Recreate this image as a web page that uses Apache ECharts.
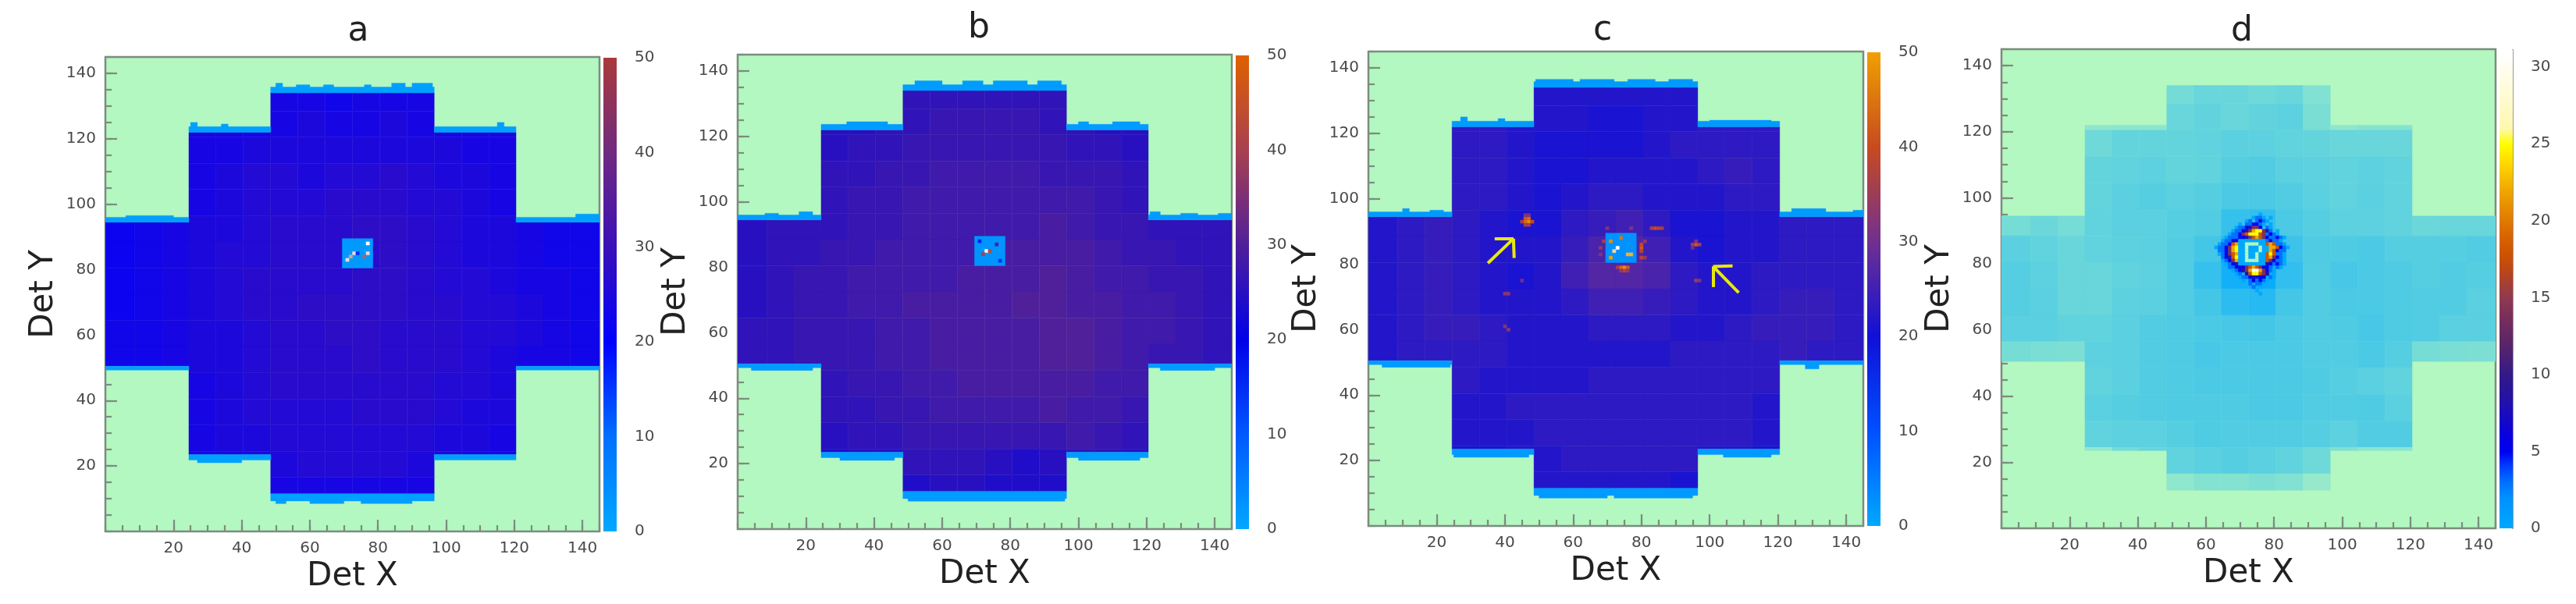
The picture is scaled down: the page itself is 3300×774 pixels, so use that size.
<!DOCTYPE html>
<html><head><meta charset="utf-8">
<style>html,body{margin:0;padding:0;background:#fff}#c{width:3300px;height:774px}</style>
<script src="https://cdn.jsdelivr.net/npm/echarts@6/dist/echarts.min.js"></script>
</head><body><div id="c"></div>
<script>
// Values are by-eye estimates of the mean level in 8x8-bin blocks of the picture: the individual
// noise pixels of the original detector images cannot be read one by one, so they are not invented.
const panelNames = ['a','b','c','d'];
const axisTitleX = 'Det X';
const axisTitleY = 'Det Y';

// rows: y from 136.5 down to 8.5 in steps of 8; columns: x from 0.5 to 144.5 in steps of 8
const aBlocks = [
[0,0,0,0,0,0,24,24,23,24,24,24,0,0,0,0,0,0],
[0,0,0,24,24,24,24,25,24,24,25,24,24,24,24,0,0,0],
[0,0,0,24,24,25,25,25,25,25,25,25,25,24,24,0,0,0],
[0,0,0,24,25,26,26,25,26,26,27,26,25,25,24,0,0,0],
[0,0,0,24,25,26,26,26,27,27,27,26,26,25,24,0,0,0],
[22,23,24,25,25,26,27,27,27,28,28,27,26,25,25,24,23,23],
[22,23,24,25,26,26,27,27,27,27,28,27,26,25,25,24,23,23],
[22,23,24,25,26,27,27,27,27,28,28,27,26,26,25,24,24,23],
[22,23,24,25,26,27,27,28,28,28,28,27,27,26,26,25,24,23],
[23,23,24,25,25,26,27,27,28,28,27,27,27,26,26,25,24,23],
[23,23,24,25,25,26,27,27,27,28,27,27,27,26,25,24,24,23],
[0,0,0,24,25,26,27,27,27,27,27,27,26,26,25,0,0,0],
[0,0,0,24,25,26,26,26,26,27,27,27,26,25,25,0,0,0],
[0,0,0,24,25,25,26,26,26,26,26,26,25,25,24,0,0,0],
[0,0,0,24,24,25,25,26,26,26,26,25,25,24,24,0,0,0],
[0,0,0,0,0,0,24,24,24,24,24,24,0,0,0,0,0,0]];
const bBlocks = [
[0,0,0,0,0,0,26,26,26,26,26,26,0,0,0,0,0,0],
[0,0,0,25,25,26,26,27,27,27,27,26,26,25,25,0,0,0],
[0,0,0,25,26,26,27,27,27,27,27,27,26,26,25,0,0,0],
[0,0,0,26,26,27,27,28,28,28,28,27,27,27,26,0,0,0],
[0,0,0,26,27,27,28,28,28,28,28,28,28,27,26,0,0,0],
[25,26,26,26,27,27,28,28,28,28,28,29,28,27,27,26,26,26],
[25,26,26,27,27,28,28,28,28,29,29,29,29,28,27,27,26,26],
[25,26,27,27,28,28,28,28,29,29,29,30,29,28,28,27,27,26],
[25,26,27,27,28,28,29,29,29,29,30,30,29,29,28,28,27,26],
[26,26,27,27,27,28,28,29,29,29,29,30,30,29,28,28,27,26],
[26,26,27,27,27,28,28,29,29,29,29,30,30,29,28,27,27,26],
[0,0,0,26,27,27,28,28,29,29,29,29,29,28,28,0,0,0],
[0,0,0,26,26,27,27,28,28,28,28,29,28,28,27,0,0,0],
[0,0,0,25,26,26,27,27,27,27,27,27,28,27,26,0,0,0],
[0,0,0,24,25,25,26,26,26,25,24,25,26,26,25,0,0,0],
[0,0,0,0,0,0,24,25,25,24,24,24,0,0,0,0,0,0]];
const cBlocks = [
[0,0,0,0,0,0,22,22,22,22,22,22,0,0,0,0,0,0],
[0,0,0,23,23,22,22,22,21,21,22,22,23,23,23,0,0,0],
[0,0,0,23,23,22,21,21,21,21,22,23,23,23,23,0,0,0],
[0,0,0,23,23,22,21,21,22,22,22,22,23,24,23,0,0,0],
[0,0,0,23,23,22,21,22,23,23,22,22,22,23,23,0,0,0],
[22,23,24,23,22,21,21,23,24,25,23,21,21,22,22,23,23,23],
[22,23,24,23,22,22,22,24,26,27,25,22,21,22,22,23,23,23],
[22,23,24,23,22,21,22,25,27,27,26,23,22,22,23,23,23,23],
[22,23,24,23,22,22,22,23,25,25,24,23,22,22,23,24,24,23],
[22,23,24,24,23,22,22,22,23,23,23,22,22,23,24,24,24,23],
[22,23,23,23,23,22,22,22,22,22,22,23,23,23,23,24,23,23],
[0,0,0,23,22,22,22,22,23,23,23,23,23,23,23,0,0,0],
[0,0,0,22,22,23,23,23,23,23,23,23,23,23,22,0,0,0],
[0,0,0,22,22,22,23,23,23,23,23,23,23,23,22,0,0,0],
[0,0,0,21,21,22,22,23,23,23,23,23,22,22,21,0,0,0],
[0,0,0,0,0,0,22,22,22,22,22,21,0,0,0,0,0,0]];
// panel d: occupied fraction of each block (zero or about one count per bin)
const dBlocks = [
[0,0,0,0,0,0,.35,.42,.42,.38,.42,.28,0,0,0,0,0,0],
[0,0,0,.2,.22,.22,.42,.45,.42,.45,.48,.32,.2,.25,.25,0,0,0],
[0,0,0,.38,.44,.44,.44,.46,.5,.48,.46,.44,.42,.42,.42,0,0,0],
[0,0,0,.44,.46,.48,.44,.46,.52,.55,.5,.48,.46,.48,.46,0,0,0],
[0,0,0,.44,.5,.52,.5,.52,.58,.58,.55,.5,.46,.5,.46,0,0,0],
[.34,.4,.34,.46,.5,.5,.52,.55,.7,.72,.58,.52,.48,.48,.46,.4,.42,.42],
[.5,.46,.42,.46,.48,.5,.54,.62,.8,.85,.66,.56,.56,.58,.52,.52,.52,.54],
[.52,.48,.42,.42,.46,.48,.54,.7,.9,.95,.72,.55,.6,.58,.56,.52,.54,.52],
[.52,.5,.42,.42,.48,.5,.54,.62,.75,.78,.62,.55,.58,.58,.56,.54,.54,.5],
[.5,.5,.46,.46,.5,.54,.56,.58,.6,.62,.58,.55,.56,.6,.56,.54,.5,.5],
[.34,.32,.3,.48,.5,.54,.56,.6,.58,.58,.58,.55,.55,.58,.52,.34,.32,.3],
[0,0,0,.46,.5,.54,.56,.58,.58,.58,.58,.56,.52,.5,.46,0,0,0],
[0,0,0,.5,.52,.54,.56,.56,.56,.58,.58,.54,.54,.56,.5,0,0,0],
[0,0,0,.46,.48,.48,.52,.56,.54,.54,.54,.52,.48,.54,.54,0,0,0],
[0,0,0,.18,.36,.42,.46,.5,.52,.5,.46,.38,.28,.22,.22,0,0,0],
[0,0,0,0,0,0,.2,.26,.26,.3,.28,.16,0,0,0,0,0,0]];

// outline of the detector, in bin coordinates: [xFrom, xTo, yFrom, yTo]
const crossSpans = [[0,145,50.5,94.5],[24.5,120.5,23.5,122],[48.5,96.5,11.5,134]];
const fringeBands = [[48.5,96.5,134,135.8],[24.5,48.5,122,123.7],[96.5,120.5,122,123.7],
  [0,24.5,94.5,96],[120.5,145,94.5,96],[0,24.5,49.3,50.5],[120.5,145,49.3,50.5],
  [24.5,48.5,21.8,23.5],[96.5,120.5,21.8,23.5],[48.5,96.5,9.3,11.5]];
const aBumps = [[50,52,135.5,137],[56,60,135.5,136.5],[64,67,135.5,136.5],[76,78,135.5,136.5],[84,88,135.5,137],[90,96,135.5,137],
  [25,27,123.5,125],[34,36,123.5,124.5],[115,117,123.5,125],[138,145,95.5,97],[6,20,95.5,96.5],
  [50,53,8.5,9.5],[60,70,8.5,9.5],[75,90,8.5,9.5],[27,40,21,22]];
const bBumps = [[52,60,135.5,137],[66,72,135.5,137],[75,85,135.5,137],[88,95,135.5,137],[32,44,123.5,124.5],[100,103,123.5,124.5],[110,118,123.5,124.5],
  [8,12,95.5,96.5],[18,22,95.5,97],[121,124,95.5,97],[130,135,95.5,96.5],[141,145,95.5,96.5],
  [50,96,8.5,9.5],[30,46,21,22],[100,118,21,22],[4,22,48.5,49.5],[124,140,48.5,49.5]];
const cBumps = [[49,60,135.5,136.5],[62,72,135.5,136.5],[76,84,135.5,136.5],[88,95,135.5,136.5],[27,29,123.5,125],[38,40,123.5,124.5],[100,118,123.5,124],
  [10,12,95.5,97],[18,22,95.5,96.5],[124,134,95.5,97],[142,145,95.5,96.5],
  [50,70,8.5,9.5],[72,95,8.5,9.5],[4,24,48.5,49.5],[128,132,48,49.5],[25,47,21,22],[104,118,21,22]];

// single hot or cold bins: [x, y, value]
const aSpots = [[73,85,58],[74,85,16],[77,88,60],[77,85,58],[76,84,52],[71,83,58],[72,84,55]];
const bSpots = [[73,85,60],[74,85,44],[72,84,40],[76,87,30],[71,88,16],[77,82,14]];
const cSpots = [[46,93,44],[47,93,48],[46,94,42],[47,94,44],[48,93,40],[45,93,36],[46,92,36],[47,92,36],[47,95,32],[46,95,32],
  [96,86,42],[95,86,36],[97,86,36],[96,87,32],[95,85,30],
  [73,85,60],[72,84,56],[71,87,48],[71,82,50],[76,83,52],[77,83,52],[74,88,45],
  [75,79,48],[74,79,44],[76,79,42],[75,78,38],[74,78,34],[76,78,34],[73,79,36],
  [80,85,42],[80,86,40],[80,84,38],[80,82,38],[81,82,34],[81,87,34],
  [84,91,40],[85,91,38],[83,91,36],[86,91,36],[68,85,34],[68,83,32],[69,87,36],[77,91,32],[70,91,32],
  [40,71,33],[41,71,33],[41,60,33],[40,61,32],[96,75,35],[97,75,32],[45,75,30]];
// central rectangle of lower counts: [xFrom, xTo, yFrom, yTo]
const boxBounds = [69.5,78.5,80.5,89.5];
const boxLevel = 2.5;
const fringeLevel = 1.5;
// panel d centre: rows from y=95 downward, columns from x=63; '.' keeps the block level
const dCentreRows = [
".............1",
"...........1221.1",
".........12.2321",
".......1.223321.1",
"......12234553.21",
".....122345788542.1",
"....122356888652321",
"...122233456765322321",
"..122331111111123221",
".12236711000011676221",
"1223578110111011776321",
".22357811011101176322",
".12356711011011686221",
"..2346811011011675321",
"..1235711000011653221",
"...123411111111432321",
"....2233356765332.21",
".....1234579975321",
"......12.4688654.1",
".......12234433.21",
"........1.232321",
"..........2.221",
"...........2.1",
"............1",
".............1"];
const dCodeValues = {'0':0,'1':1,'2':3,'3':5,'4':8,'5':14,'6':18,'7':22,'8':25,'9':30};
const arrowSegments = [
 [[35,80.3],[42.5,87.8]],[[42.5,87.8],[37,87.8]],[[42.5,87.8],[42.7,81.9]],
 [[108.5,71.3],[101,79.3]],[[101,79.3],[106.7,79.5]],[[101,79.3],[101,73]]];

const plotTicks = 20, plotMinor = 5, plotMax = 145;
const barTops = [50,50,50,31.1];
const barTicks = [10,10,10,5];
const barMinor = [2,2,2,1];

// styles and layout
const green = '#b3f7c1';
const lefts = [135,945,1753,2564], tops = [73,70,66,63], widths = [633,633,634,633], heights = [608,608,608,614];
const titleX = [454,1249,2048,2867], titleY = [14,10,13,14];
const ramps = [
 ['#00a8ff','#0070ff','#0000ff','#3a10b8','#702a80','#aa3a3a','#ffffff'],
 ['#00a8ff','#0058ff','#0000e8','#50209a','#a84050','#e06000','#ffffff'],
 ['#00a8ff','#0050ff','#1010d8','#703090','#c84a20','#f0a000','#ffffff']];
const dRamp = [green,'#00a8ff','#0090ff','#0070ff','#0040ff','#0000f0','#0a00e0','#1408c8','#2010b0','#2a1498','#341a88',
 '#481f78','#5a2568','#6c2a60','#7e3058','#903a50','#a84030','#c04a10','#d05500','#d86500','#e07a00',
 '#e89000','#f0a800','#f8c400','#ffe000','#ffff00','#fff8b0','#fff9c0','#fffbd0','#fffce0','#fffef0','#ffffff'];

function blockCells(blocks){
  const out=[];
  blocks.forEach((row,r)=>{
    const y1=136.5-8*r, y0=y1-8;
    row.forEach((v,c)=>{
      if(!v) return;
      const x0=c===0?0:0.5+8*c, x1=c===17?145:8.5+8*c;
      const pieces=[];
      crossSpans.forEach(s=>{
        const a=Math.max(x0,s[0]),b=Math.min(x1,s[1]),d=Math.max(y0,s[2]),e=Math.min(y1,s[3]);
        if(a<b&&d<e) pieces.push([a,d,b,e,v]);
      });
      if(pieces.length){
        pieces.sort((p,q)=>(q[3]-q[1])-(p[3]-p[1]));
        out.push(pieces[0]);
      }
    });
  });
  return out;
}
function panelCells(i){
  const blocks=[aBlocks,bBlocks,cBlocks,dBlocks][i];
  const out=blockCells(blocks);
  if(i<3){
    const bumps=[aBumps,bBumps,cBumps][i];
    fringeBands.concat(bumps).forEach(b=>out.push([b[0],b[2],b[1],b[3],fringeLevel]));
    out.push([boxBounds[0],boxBounds[2],boxBounds[1],boxBounds[3],boxLevel]);
    [aSpots,bSpots,cSpots][i].forEach(s=>out.push([s[0]-.5,s[1]-.5,s[0]+.5,s[1]+.5,s[2]]));
  } else {
    dCentreRows.forEach((row,r)=>{
      const y=95-r;
      for(let k=0;k<row.length;k++){
        if(row[k]==='.') continue;
        const x=63+k, v=dCodeValues[row[k]];
        out.push([x-.5,y-.5,x+.5,y+.5,v]);
      }
    });
  }
  return out;
}
const renderCell=(p,api)=>{
  const a=api.coord([api.value(0),api.value(3)]), b=api.coord([api.value(2),api.value(1)]);
  const col=api.visual('color');
  return {type:'rect',shape:{x:a[0],y:a[1],width:b[0]-a[0],height:b[1]-a[1]},style:{fill:col,stroke:col,lineWidth:0.4}};
};
const tickText={color:'#4a4a4a',fontFamily:'DejaVu Sans',fontSize:20};
const lineCol='#7d8c7e';
const grids=[],xAxes=[],yAxes=[],series=[],visualMaps=[],titles=[];
const hideLabel={show:false};
panelNames.forEach((nm,i)=>{
  titles.push({text:nm,left:titleX[i],top:titleY[i],textAlign:'center',
    textStyle:{fontFamily:'DejaVu Sans',fontSize:44,fontWeight:'normal',color:'#222'}});
  const g=grids.length;
  grids.push({left:lefts[i],top:tops[i],width:widths[i],height:heights[i],show:true,backgroundColor:green,borderColor:lineCol,borderWidth:2.5,containLabel:false});
  const common={min:0,max:plotMax,gridIndex:g,splitLine:{show:false},axisLine:{show:false}};
  const fmt=v=>(v%plotTicks===0&&v>0&&v<plotMax)?String(v):'';
  const xMain=xAxes.length;
  xAxes.push({...common,type:'value',position:'bottom',interval:plotTicks,name:axisTitleX,nameLocation:'middle',nameGap:35,
    nameTextStyle:{fontFamily:'DejaVu Sans',fontSize:42,color:'#222'},
    axisTick:{inside:true,length:15,lineStyle:{color:lineCol,width:2.2}},
    axisLabel:{...tickText,margin:12,formatter:fmt,showMinLabel:false,showMaxLabel:false}});
  xAxes.push({...common,type:'value',position:'bottom',interval:plotMinor,axisLabel:hideLabel,
    axisTick:{inside:true,length:8,lineStyle:{color:lineCol,width:2.2}}});
  const yMain=yAxes.length;
  yAxes.push({...common,type:'value',position:'left',interval:plotTicks,name:axisTitleY,nameLocation:'middle',nameGap:58,
    nameTextStyle:{fontFamily:'DejaVu Sans',fontSize:42,color:'#222'},
    axisTick:{inside:true,length:15,lineStyle:{color:lineCol,width:2.2}},
    axisLabel:{...tickText,margin:12,formatter:fmt,showMinLabel:false,showMaxLabel:false}});
  yAxes.push({...common,type:'value',position:'left',interval:plotMinor,axisLabel:hideLabel,
    axisTick:{inside:true,length:8,lineStyle:{color:lineCol,width:2.2}}});
  const s={type:'custom',coordinateSystem:'cartesian2d',xAxisIndex:xMain,yAxisIndex:yMain,renderItem:renderCell,
    encode:{x:[0,2],y:[1,3]},data:panelCells(i),clip:true,z:2,animation:false};
  if(i===2){
    s.markLine={silent:true,symbol:'none',animation:false,label:{show:false},
      lineStyle:{color:'#e8e810',width:4,type:'solid'},
      data:arrowSegments.map(seg=>[{coord:seg[0]},{coord:seg[1]}])};
  }
  const seriesIdx=series.length;
  series.push(s);
  const ramp=i<3?ramps[i]:dRamp;
  visualMaps.push({show:false,type:'continuous',seriesIndex:seriesIdx,dimension:4,min:0,max:i<3?60:31,inRange:{color:ramp}});

  const top=barTops[i];
  const stops=i<3
    ? ramp.slice(0,6).map((c,k)=>({offset:k/5,color:c}))
    : dRamp.slice(1).map((c,k)=>({offset:k===0?0:Math.min(1,(k+1)/31.1),color:c}));
  const gb=grids.length;
  grids.push({left:lefts[i]+widths[i]+5,top:tops[i]+1,width:17,height:heights[i]-1,show:false});
  const xb=xAxes.length;
  xAxes.push({type:'category',gridIndex:gb,data:[''],show:false,boundaryGap:true});
  const yb=yAxes.length;
  const barCommon={type:'value',gridIndex:gb,position:'right',min:0,max:top,splitLine:{show:false}};
  yAxes.push({...barCommon,interval:barTicks[i],axisLine:{show:i===3,lineStyle:{color:'#9a9a9a',width:2}},
    axisTick:{length:15,lineStyle:{color:'#7a7a7a',width:2}},
    axisLabel:{...tickText,margin:23,formatter:v=>(v%barTicks[i]===0)?String(v):'',showMaxLabel:i<3}});
  yAxes.push({...barCommon,interval:barMinor[i],axisLine:{show:false},axisLabel:hideLabel,
    axisTick:{length:8,lineStyle:{color:'#7a7a7a',width:2}}});
  series.push({type:'bar',xAxisIndex:xb,yAxisIndex:yb,barWidth:'100%',data:[top],silent:true,animation:false,
    itemStyle:{color:{type:'linear',x:0,y:1,x2:0,y2:0,colorStops:stops}}});
});
const chart=echarts.init(document.getElementById('c'),null,{renderer:'canvas'});
chart.setOption({animation:false,backgroundColor:'#ffffff',title:titles,grid:grids,xAxis:xAxes,yAxis:yAxes,visualMap:visualMaps,series:series});
</script></body></html>
